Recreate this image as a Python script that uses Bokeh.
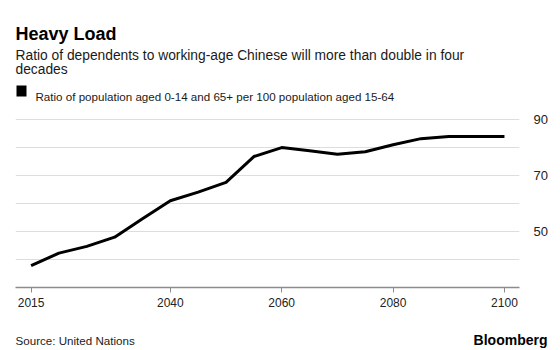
from bokeh.plotting import figure
from bokeh.layouts import column, row
from bokeh.models import Label, BoxAnnotation, FixedTicker, LinearAxis, Range1d
from bokeh.embed import file_html
from bokeh.resources import INLINE

years = [2015, 2020, 2025, 2030, 2035, 2040, 2045, 2050, 2055, 2060,
         2065, 2070, 2075, 2080, 2085, 2090, 2095, 2100]
ratio = [37.8, 42.3, 44.7, 48.0, 54.6, 61.0, 64.1, 67.6, 76.8, 80.0,
         78.9, 77.6, 78.5, 81.0, 83.2, 84.0, 84.0, 84.0]
x_ticks = [2015, 2040, 2060, 2080, 2100]
y_labels = [50, 70, 90]
y_grid = [40, 50, 60, 70, 80, 90]

FONT = "Liberation Sans"
W = 560
HEAD_H = 105
FOOT_H = 32
MAIN_H = 350 - HEAD_H - FOOT_H  # canvas y 105..318


def blank(h):
    f = figure(width=W, height=h, output_backend="svg", toolbar_location=None,
               x_range=Range1d(0, 1), y_range=Range1d(0, 1),
               x_axis_location=None, y_axis_location=None,
               min_border=0, min_border_left=0, min_border_right=0,
               min_border_top=0, min_border_bottom=0)
    f.outline_line_color = None
    f.grid.visible = False
    f.background_fill_color = "white"
    f.border_fill_color = "white"
    return f


def lab(f, h, y0, text, x, y, size, bold=False, align="left", color="#1a1a1a"):
    # x, y: canvas pixels from the page's top-left (text baseline)
    f.add_layout(Label(x=x, y=h - (y - y0), x_units="screen", y_units="screen",
                       text=text, text_font=FONT, text_font_size=size,
                       text_font_style="bold" if bold else "normal",
                       text_align=align, text_baseline="alphabetic",
                       text_color=color))


# header
head = blank(HEAD_H)
lab(head, HEAD_H, 0, "Heavy Load", 15, 33, "18px", bold=True, color="black")
lab(head, HEAD_H, 0, "Ratio of dependents to working-age Chinese will more than double in four", 15, 55, "13.8px")
lab(head, HEAD_H, 0, "decades", 15, 69, "13.8px")
lab(head, HEAD_H, 0, "Ratio of population aged 0-14 and 65+ per 100 population aged 15-64", 35, 96, "11.6px")
head.add_layout(BoxAnnotation(left=16, right=26, top=HEAD_H - 85, bottom=HEAD_H - 96,
                              left_units="screen", right_units="screen",
                              top_units="screen", bottom_units="screen",
                              fill_color="black", fill_alpha=1, line_color=None))

# main chart
FRAME_TOP, FRAME_BOTTOM = 118, 287
p = figure(width=W, height=MAIN_H, output_backend="svg", toolbar_location=None,
           x_range=Range1d(2012.2, 2102.7), y_range=Range1d(30, 90.4),
           y_axis_location=None,
           min_border_left=15, min_border_right=41,
           min_border_top=FRAME_TOP - HEAD_H,
           min_border_bottom=HEAD_H + MAIN_H - FRAME_BOTTOM)
p.outline_line_color = None
p.background_fill_color = "white"
p.border_fill_color = "white"

p.line(years, ratio, line_color="black", line_width=3, line_join="round")

xa = p.xaxis[0]
xa.ticker = FixedTicker(ticks=x_ticks)
xa.axis_line_color = "#8c8c8c"
xa.axis_line_width = 1.5
xa.major_tick_line_color = "#8c8c8c"
xa.major_tick_out = 5
xa.major_tick_in = 0
xa.minor_tick_line_color = None
xa.major_label_text_font = FONT
xa.major_label_text_font_size = "12px"
xa.major_label_text_color = "#222222"
xa.major_label_standoff = 5
p.xgrid.grid_line_color = None

ya = LinearAxis(ticker=FixedTicker(ticks=y_labels))
ya.axis_line_color = None
ya.major_tick_line_color = None
ya.minor_tick_line_color = None
ya.major_label_text_font = FONT
ya.major_label_text_font_size = "13px"
ya.major_label_text_color = "#222222"
ya.major_label_standoff = 8
p.add_layout(ya, "right")
p.ygrid.ticker = FixedTicker(ticks=y_grid)
p.ygrid.grid_line_color = "#dddddd"
p.ygrid.grid_line_width = 1

# footer
foot = blank(FOOT_H)
y0 = HEAD_H + MAIN_H
lab(foot, FOOT_H, y0, "Source: United Nations", 15, 340, "11.6px", color="#222222")
lab(foot, FOOT_H, y0, "Bloomberg", 547, 339, "14px", bold=True, align="right", color="black")

layout = column(row(head), row(p), row(foot), spacing=0)
open("out.html", "w").write(file_html(layout, INLINE))
